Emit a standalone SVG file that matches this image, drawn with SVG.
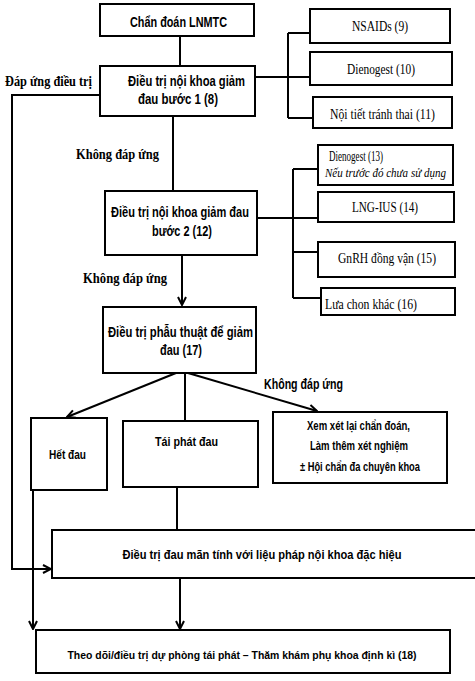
<svg xmlns="http://www.w3.org/2000/svg" width="475" height="681" viewBox="0 0 475 681">
<defs>
<style>
.box{fill:#fff;stroke:#000;stroke-width:2}
.ln{fill:none;stroke:#000;stroke-width:2}
.sb{font-family:"Liberation Sans",Arial,sans-serif;font-weight:bold;font-size:14px;fill:#000}
.sb2{font-family:"Liberation Sans",Arial,sans-serif;font-weight:bold;font-size:13px;fill:#000}
.sr{font-family:"Liberation Serif","Times New Roman",serif;font-size:15px;fill:#000}
.si{font-family:"Liberation Serif","Times New Roman",serif;font-style:italic;font-size:13.5px;fill:#000}
.lb{font-family:"Liberation Serif","Times New Roman",serif;font-weight:bold;font-size:15px;fill:#000}
.mid{text-anchor:middle}
</style>
<marker id="arr" viewBox="0 0 10 10" refX="9" refY="5" markerWidth="10" markerHeight="10" markerUnits="userSpaceOnUse" orient="auto">
<path d="M1,1 L9,5 L1,9" fill="none" stroke="#000" stroke-width="2"/>
</marker>
</defs>
<rect width="475" height="681" fill="#fff"/>
<g id="connectors">
<line class="ln" x1="180" y1="36" x2="180" y2="66"/>
<polyline class="ln" points="100,95 12,95 12,569 51,569" marker-end="url(#arr)"/>
<line class="ln" x1="173" y1="116" x2="173" y2="191"/>
<line class="ln" x1="182" y1="255" x2="182" y2="305" marker-end="url(#arr)"/>
<line class="ln" x1="255" y1="77" x2="310" y2="77"/>
<line class="ln" x1="288" y1="33" x2="288" y2="118"/>
<line class="ln" x1="288" y1="33" x2="310" y2="33"/>
<line class="ln" x1="288" y1="118" x2="313" y2="118"/>
<line class="ln" x1="257" y1="218" x2="318" y2="218"/>
<line class="ln" x1="293" y1="169" x2="293" y2="298"/>
<line class="ln" x1="293" y1="169" x2="318" y2="169"/>
<line class="ln" x1="293" y1="252" x2="318" y2="252"/>
<line class="ln" x1="293" y1="298" x2="321" y2="298"/>
<line class="ln" x1="176" y1="373" x2="67" y2="417" marker-end="url(#arr)"/>
<line class="ln" x1="185" y1="373" x2="185" y2="421"/>
<line class="ln" x1="188" y1="373" x2="317" y2="411" marker-end="url(#arr)"/>
<line class="ln" x1="177" y1="487" x2="177" y2="530"/>
<line class="ln" x1="33" y1="490" x2="33" y2="629" marker-end="url(#arr)"/>
<line class="ln" x1="180" y1="578" x2="180" y2="629" marker-end="url(#arr)"/>
</g>
<g id="labels">
<text class="lb" x="5" y="86" textLength="87" lengthAdjust="spacingAndGlyphs">Đáp ứng điều trị</text>
<text class="lb" x="76" y="159" textLength="83" lengthAdjust="spacingAndGlyphs">Không đáp ứng</text>
<text class="lb" x="83" y="283" textLength="84" lengthAdjust="spacingAndGlyphs">Không đáp ứng</text>
<text class="sb" x="264" y="389" textLength="79" lengthAdjust="spacingAndGlyphs">Không đáp ứng</text>
</g>
<g id="n1">
<rect class="box" x="100" y="4" width="154" height="32"/>
<text class="sb" x="130" y="27" textLength="97" lengthAdjust="spacingAndGlyphs">Chẩn đoán LNMTC</text>
</g>
<g id="n2">
<rect class="box" x="100" y="66" width="155" height="50"/>
<text class="sb" x="128" y="86" textLength="117" lengthAdjust="spacingAndGlyphs">Điều trị nội khoa giảm</text>
<text class="sb" x="138" y="104" textLength="80" lengthAdjust="spacingAndGlyphs">đau bước 1 (8)</text>
</g>
<g id="n9">
<rect class="box" x="310" y="9" width="140" height="34"/>
<text class="sr" x="352" y="31" textLength="56" lengthAdjust="spacingAndGlyphs">NSAIDs (9)</text>
</g>
<g id="n10">
<rect class="box" x="310" y="52" width="142" height="33"/>
<text class="sr" x="347" y="74" textLength="68" lengthAdjust="spacingAndGlyphs">Dienogest (10)</text>
</g>
<g id="n11">
<rect class="box" x="313" y="97" width="139" height="31"/>
<text class="sr" x="330" y="119" textLength="105" lengthAdjust="spacingAndGlyphs">Nội tiết tránh thai (11)</text>
</g>
<g id="n3">
<rect class="box" x="105" y="191" width="152" height="64"/>
<text class="sb" x="111" y="217" textLength="138" lengthAdjust="spacingAndGlyphs">Điều trị nội khoa giảm đau</text>
<text class="sb" x="152" y="236" textLength="60" lengthAdjust="spacingAndGlyphs">bước 2 (12)</text>
</g>
<g id="n13">
<rect class="box" x="318" y="145" width="135" height="40"/>
<text class="sr" x="329" y="161" textLength="54" lengthAdjust="spacingAndGlyphs">Dienogest (13)</text>
<text class="si" x="325" y="177" textLength="121" lengthAdjust="spacingAndGlyphs">Nếu trước đó chưa sử dụng</text>
</g>
<g id="n14">
<rect class="box" x="318" y="192" width="136" height="30"/>
<text class="sr" x="352" y="212" textLength="66" lengthAdjust="spacingAndGlyphs">LNG-IUS (14)</text>
</g>
<g id="n15">
<rect class="box" x="318" y="242" width="137" height="35"/>
<text class="sr" x="338" y="263" textLength="98" lengthAdjust="spacingAndGlyphs">GnRH đồng vận (15)</text>
</g>
<g id="n16">
<rect class="box" x="321" y="288" width="134" height="27"/>
<text class="sr" x="325" y="309" textLength="92" lengthAdjust="spacingAndGlyphs">Lưa chon khác (16)</text>
</g>
<g id="n4">
<rect class="box" x="103" y="307" width="153" height="66"/>
<text class="sb" x="108" y="337" textLength="145" lengthAdjust="spacingAndGlyphs">Điều trị phẫu thuật để giảm</text>
<text class="sb" x="160" y="355" textLength="42" lengthAdjust="spacingAndGlyphs">đau (17)</text>
</g>
<g id="n-het-dau">
<rect class="box" x="31" y="418" width="76" height="72"/>
<text class="sb2" x="49" y="459" textLength="37" lengthAdjust="spacingAndGlyphs">Hết đau</text>
</g>
<g id="n-tai-phat">
<rect class="box" x="123" y="421" width="135" height="66"/>
<text class="sb2" x="155" y="446" textLength="63" lengthAdjust="spacingAndGlyphs">Tái phát đau</text>
</g>
<g id="n-xem-xet">
<rect class="box" x="273" y="412" width="174" height="71"/>
<text class="sb2" x="307" y="430" textLength="103" lengthAdjust="spacingAndGlyphs">Xem xét lại chẩn đoán,</text>
<text class="sb2" x="310" y="450" textLength="98" lengthAdjust="spacingAndGlyphs">Làm thêm xét nghiệm</text>
<text class="sb2" x="300" y="471" textLength="120" lengthAdjust="spacingAndGlyphs">± Hội chẩn đa chuyên khoa</text>
</g>
<g id="n-man-tinh">
<rect class="box" x="52" y="530" width="430" height="48"/>
<text class="sb2 mid" x="262" y="559" textLength="279" lengthAdjust="spacingAndGlyphs">Điều trị đau mãn tính với liệu pháp nội khoa đặc hiệu</text>
</g>
<g id="n18">
<rect class="box" x="36" y="630" width="414" height="43"/>
<text class="sb2 mid" x="242" y="659" style="font-size:11.5px" textLength="349" lengthAdjust="spacingAndGlyphs">Theo dõi/điều trị dự phòng tái phát – Thăm khám phụ khoa định kì (18)</text>
</g>
</svg>
